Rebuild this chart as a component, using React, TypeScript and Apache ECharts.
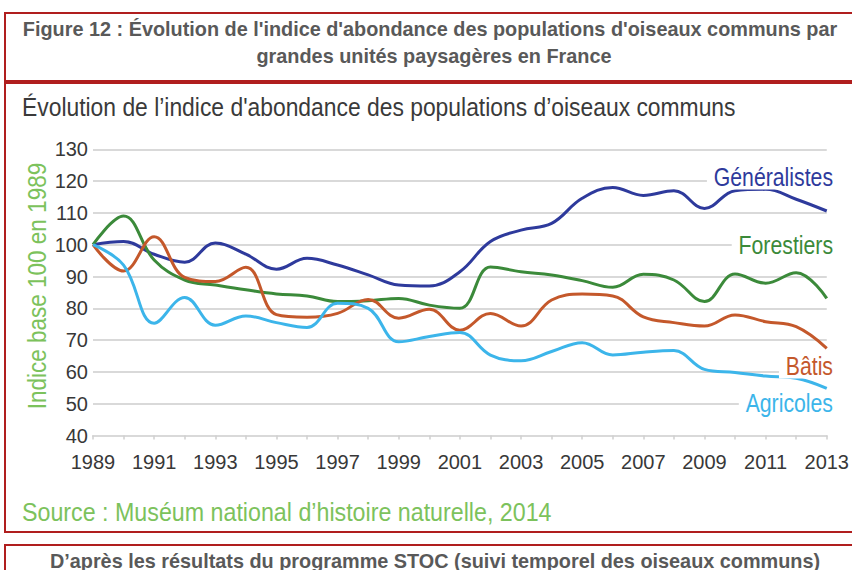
import React, { useEffect, useRef } from "react";
import * as echarts from "echarts";

const years = ["1989","1990","1991","1992","1993","1994","1995","1996","1997","1998","1999","2000","2001","2002","2003","2004","2005","2006","2007","2008","2009","2010","2011","2012","2013"];
const generalistes = [100, 101, 97, 94.5, 100.5, 97, 92.3, 95.7, 93.6, 90.5, 87.3, 87, 91.5, 101, 104.6, 106.7, 114.6, 118, 115.5, 117, 111.4, 117, 117.4, 114.3, 110.6];
const forestiers = [100, 109, 95.2, 88.9, 87.3, 85.8, 84.5, 83.9, 82.1, 82.4, 83.1, 81, 80, 93, 91.5, 90.5, 88.7, 86.6, 90.7, 88.9, 82.1, 90.8, 87.9, 91.2, 83.1];
const batis = [100, 91.7, 102.5, 89.7, 88.4, 92.9, 78, 77.2, 78.4, 82.8, 76.9, 79.7, 73.1, 78.4, 74.4, 82.6, 84.5, 83.9, 77.3, 75.5, 74.4, 77.9, 75.8, 74.2, 67.4];
const agricoles = [100, 93.6, 75.3, 83.4, 74.7, 77.6, 75.5, 74, 81.6, 80, 69.5, 71.1, 72.4, 65.3, 63.5, 66.4, 69.2, 65.3, 66.2, 66.7, 60.8, 59.8, 58.7, 58, 54.8];
const seriesNames = ["Généralistes", "Forestiers", "Bâtis", "Agricoles"];
const colors = ["#2e3a9c", "#3b8a3a", "#c4582b", "#3cb5ea"];

const SANS = "'Liberation Sans', Arial, sans-serif";
const BORDER = "#b01e1e";

export default function App() {
  const ref = useRef<HTMLDivElement>(null);
  useEffect(() => {
    const chart = echarts.init(ref.current!, null, { renderer: "svg" });
    const data = [generalistes, forestiers, batis, agricoles];
    const labelPos = [
      { x: 833, y: 177 },
      { x: 833, y: 245 },
      { x: 833, y: 366 },
      { x: 833, y: 403 },
    ];
    chart.setOption({
      animation: false,
      backgroundColor: "#ffffff",
      grid: { left: 93, right: 20, top: 149.3, bottom: 134.5, containLabel: false },
      xAxis: {
        type: "category",
        data: years,
        boundaryGap: false,
        axisLine: { show: true, lineStyle: { color: "#d9d9d9", width: 2 } },
        axisTick: { show: true, interval: 0, length: 4, lineStyle: { color: "#cfcfcf", width: 1.5 } },
        axisLabel: { interval: 1, color: "#383838", fontFamily: SANS, fontSize: 20, margin: 16 },
        splitLine: { show: false },
      },
      yAxis: {
        type: "value",
        min: 40,
        max: 130,
        interval: 10,
        axisLine: { show: false },
        axisTick: { show: false },
        axisLabel: { color: "#383838", fontFamily: SANS, fontSize: 20, margin: 5 },
        splitLine: { show: true, lineStyle: { color: "#d9d9d9", width: 2 } },
      },
      series: seriesNames.map((name, i) => ({
        name,
        type: "line",
        data: data[i],
        smooth: 0.4,
        symbol: "none",
        lineStyle: { color: colors[i], width: 3 },
        z: 3 + i,
      })),
      graphic: [
        { type: "rect", shape: { x: 5, y: 13, width: 900, height: 68 }, style: { fill: "none", stroke: BORDER, lineWidth: 2 } },
        { type: "rect", shape: { x: 5, y: 83, width: 900, height: 449 }, style: { fill: "none", stroke: BORDER, lineWidth: 2 } },
        { type: "rect", shape: { x: 5, y: 545, width: 900, height: 100 }, style: { fill: "none", stroke: BORDER, lineWidth: 2 } },
        { type: "text", x: 430, y: 29, scaleX: 0.945, style: { text: "Figure 12 : Évolution de l'indice d'abondance des populations d'oiseaux communs par", fill: "#595959", font: "bold 21px " + SANS, textAlign: "center", textVerticalAlign: "middle" } },
        { type: "text", x: 434, y: 56, scaleX: 0.945, style: { text: "grandes unités paysagères en France", fill: "#595959", font: "bold 21px " + SANS, textAlign: "center", textVerticalAlign: "middle" } },
        { type: "text", x: 22, y: 107, scaleX: 0.88, style: { text: "Évolution de l’indice d'abondance des populations d’oiseaux communs", fill: "#3a3a3a", font: "26px " + SANS, textAlign: "left", textVerticalAlign: "middle" } },
        { type: "text", x: 37, y: 286, rotation: Math.PI / 2, scaleX: 0.9, style: { text: "Indice base 100 en 1989", fill: "#7cc25c", font: "25px " + SANS, textAlign: "center", textVerticalAlign: "middle" } },
        { type: "text", x: 22, y: 512, scaleX: 0.93, style: { text: "Source : Muséum national d’histoire naturelle, 2014", fill: "#7cc25c", font: "25px " + SANS, textAlign: "left", textVerticalAlign: "middle" } },
        { type: "text", x: 435, y: 561, scaleX: 0.945, style: { text: "D’après les résultats du programme STOC (suivi temporel des oiseaux communs)", fill: "#595959", font: "bold 21px " + SANS, textAlign: "center", textVerticalAlign: "middle" } },
        ...seriesNames.map((name, i) => ({
          type: "text",
          x: labelPos[i].x,
          y: labelPos[i].y,
          z: 10,
          scaleX: 0.85,
          style: {
            text: name,
            fill: colors[i],
            font: "25px " + SANS,
            textAlign: "right",
            textVerticalAlign: "middle",
            backgroundColor: "#ffffff",
            padding: [0, 0, 0, 8],
          },
        })),
      ],
    });
    return () => chart.dispose();
  }, []);
  return <div ref={ref} style={{ position: "fixed", left: 0, top: 0, width: 852, height: 570 }} />;
}
